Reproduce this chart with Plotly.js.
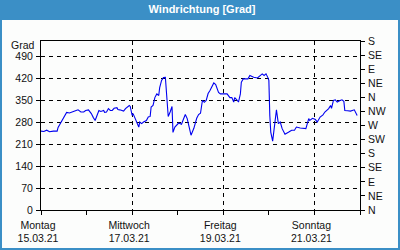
<!DOCTYPE html>
<html>
<head>
<meta charset="utf-8">
<script src="https://cdn.plot.ly/plotly-3.0.1.min.js"></script>
<style>html,body{margin:0;padding:0;background:#3b8fc6;}#chart{width:400px;height:250px;}</style>
</head>
<body>
<div id="chart"></div>
<script>
// Hours after 15.03.21 00:00 and wind direction in degrees
var hoursSinceStart = [0,1.5,3,4.5,6.5,8.5,9,11,12,13.5,15,16,17.5,18.5,19.5,21,22.5,23.5,25,26.5,27.5,28.5,29.5,30.5,31.5,33,33.5,34.5,35.5,36.5,37.5,38.5,40,40.5,41.5,43.5,44.5,45.5,46.5,47,48,48.5,49.5,50.5,51.5,52,53,54,55.5,56.5,57.5,58,59,60,61,62,62.5,63.5,64.5,65.5,66,66.5,67,68,69,69.5,70.5,72.5,74,75,76,77,77.5,79,80.5,82,83,84,85,86,87,88,89,90.5,91,92,93.5,94.5,96,98,99.5,100.5,101.5,102,103,104,105,105.5,106.5,108,109,110,112,114,115.5,116.5,117.5,118.5,119.5,120,120.5,121,122,123,123.5,124,125,126,127,128,128.5,130.5,132,133.5,134.5,136.5,138,139.5,141,141.5,143,144.5,145.5,147,148.5,149.5,151.5,152.5,153,154,155,156,157.5,158.5,159.5,160,161.5,163,165,165.5,166.5];
var directionDeg = [252,251,255,250,252,252,264,286,299,312,310,313,315,318,320,313,313,318,320,308,296,286,302,318,315,318,312,313,324,318,318,325,327,321,320,316,324,329,334,331,302,308,292,276,265,281,276,281,286,297,299,329,334,360,371,366,391,414,423,424,382,350,299,313,331,248,265,278,274,290,305,292,276,239,261,293,305,309,350,344,350,372,382,401,406,401,376,371,372,371,359,359,345,359,353,345,371,408,419,420,419,430,424,422,430,435,430,435,423,414,302,249,220,276,309,320,276,281,260,248,242,249,255,255,265,262,260,260,292,286,293,289,281,297,304,313,324,334,325,350,352,345,350,352,347,318,317,316,320,315,302];

var tickDates = ["2021-03-15","2021-03-17","2021-03-19","2021-03-21"];
var tickLabels = ["Montag<br>15.03.21","Mittwoch<br>17.03.21","Freitag<br>19.03.21","Sonntag<br>21.03.21"];
var leftTicks = [0,70,140,210,280,350,420,490];
var compassTicks = [0,45,90,135,180,225,270,315,360,405,450,495,540];
var compassLabels = ["N","NE","E","SE","S","SW","W","NW","N","NE","E","SE","S"];

function pad(n){return (n<10?"0":"")+n;}
var times = hoursSinceStart.map(function(h){
  var d = 15 + Math.floor(h/24);
  var rem = h - Math.floor(h/24)*24;
  var hh = Math.floor(rem);
  var mm = Math.round((rem-hh)*60);
  return "2021-03-"+pad(d)+" "+pad(hh)+":"+pad(mm);
});

var W=400,H=250,ml=41,mr=40,mt=41,mb=40;
var pw=W-ml-mr, ph=H-mt-mb;
var font = {family:"Liberation Sans, Arial, sans-serif", size:10.5, color:"#111"};

var data = [{
  x: times, y: directionDeg, type:"scatter", mode:"lines",
  line:{color:"#0000f0", width:1.1}, hoverinfo:"skip"
},{
  x: [times[0]], y:[0], yaxis:"y2", type:"scatter", mode:"markers",
  marker:{opacity:0}, hoverinfo:"skip", showlegend:false
}];

var layout = {
  width:W, height:H,
  margin:{l:ml, r:mr, t:mt, b:mb, pad:0},
  paper_bgcolor:"#3b8fc6", plot_bgcolor:"#fcfdfc",
  showlegend:false,
  title:{text:"<b>Windrichtung [Grad]</b>", font:{family:"Liberation Sans, Arial, sans-serif", size:11, color:"#ffffff"},
    x:0.505, xanchor:"center", y:1-9/H, yanchor:"middle", yref:"container"},
  xaxis:{
    type:"date", range:["2021-03-15","2021-03-22"],
    tickmode:"array", tickvals:tickDates, ticktext:tickLabels,
    ticks:"", showgrid:true, gridcolor:"#000", gridwidth:1, griddash:"4px,4px",
    showline:true, linecolor:"#000", linewidth:1, mirror:true,
    tickfont:font, ticklabelshift:-3, ticklabelstandoff:5,
    minor:{tickmode:"linear", tick0:"2021-03-15", dtick:86400000, ticks:"outside", ticklen:4, tickcolor:"#000", showgrid:false},
    zeroline:false, fixedrange:true
  },
  yaxis:{
    range:[0,540], tickmode:"array", tickvals:leftTicks,
    ticks:"outside", ticklen:4, tickcolor:"#000",
    showgrid:true, gridcolor:"#000", gridwidth:1, griddash:"4px,4px",
    showline:true, linecolor:"#000", linewidth:1,
    tickfont:font, ticklabelstandoff:1, zeroline:false, fixedrange:true
  },
  yaxis2:{
    overlaying:"y", side:"right", range:[0,540],
    tickmode:"array", tickvals:compassTicks, ticktext:compassLabels,
    ticks:"outside", ticklen:4, tickcolor:"#000",
    showgrid:false, showline:true, linecolor:"#000", linewidth:1,
    tickfont:font, ticklabelstandoff:1, zeroline:false, fixedrange:true
  },
  shapes:[{
    type:"rect", xref:"paper", yref:"paper", layer:"below",
    x0:(2-ml)/pw, x1:(398-ml)/pw, y0:-(248-mt-ph)/ph, y1:(mt-20+ph)/ph,
    fillcolor:"#fcfdfc", line:{width:0}
  }],
  annotations:[{
    text:"Grad", xref:"paper", yref:"paper", x:0, y:1, xanchor:"right", yanchor:"middle",
    xshift:-4, yshift:-4, showarrow:false, font:font
  }]
};

Plotly.newPlot("chart", data, layout, {staticPlot:true, displayModeBar:false});
</script>
</body>
</html>
